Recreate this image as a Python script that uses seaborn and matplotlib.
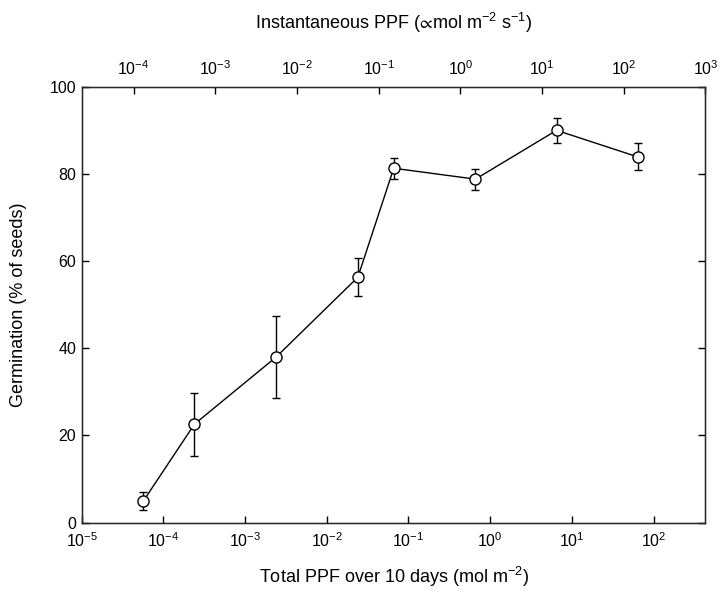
# Germination vs. light dose (total PPF over 10 days / instantaneous PPF)

import numpy as np
import pandas as pd
import matplotlib
matplotlib.use("Agg")
import matplotlib.pyplot as plt
import seaborn as sns

# Data
total_ppf = [5.7e-5, 2.4e-4, 2.4e-3, 2.4e-2, 6.6e-2, 0.66, 6.5, 64.0]   # mol m-2
germination = [5.0, 22.6, 38.0, 56.3, 81.3, 78.8, 90.0, 83.9]          # % of seeds
germ_err = [2.1, 7.2, 9.3, 4.3, 2.4, 2.4, 2.8, 3.1]

# total (mol m-2 over 10 days) = instantaneous (umol m-2 s-1) * factor
ppf_factor = 0.432

bottom_ticks = [1e-5, 1e-4, 1e-3, 1e-2, 1e-1, 1e0, 1e1, 1e2]
top_ticks = [1e-4, 1e-3, 1e-2, 1e-1, 1e0, 1e1, 1e2, 1e3]
y_ticks = [0, 20, 40, 60, 80, 100]


def make_plot():
    sns.set_style("ticks")
    plt.rcParams['font.family'] = ['Liberation Sans', 'DejaVu Sans']
    plt.rcParams['mathtext.fontset'] = 'custom'
    plt.rcParams['mathtext.rm'] = 'Liberation Sans'
    plt.rcParams['mathtext.it'] = 'Liberation Sans'
    plt.rcParams['mathtext.fallback'] = 'stixsans'
    for key in ['text.color', 'axes.labelcolor', 'xtick.color', 'ytick.color']:
        plt.rcParams[key] = 'black'

    df = pd.DataFrame({'total': total_ppf, 'germ': germination, 'err': germ_err})

    fig = plt.figure(figsize=(7.21, 5.92), dpi=100)
    ax = fig.add_axes([0.1133, 0.1171, 0.8652, 0.7364])

    ax.errorbar(df['total'], df['germ'], yerr=df['err'], fmt='none',
                ecolor='black', elinewidth=1.0, capsize=3, capthick=1.0, zorder=2)
    sns.lineplot(data=df, x='total', y='germ', ax=ax, color='black', linewidth=1.0,
                 marker='o', markersize=8, markerfacecolor='white',
                 markeredgecolor='black', markeredgewidth=1.0, zorder=3)

    xmin, xmax = 1e-5, 1e3 * ppf_factor
    ax.set_xscale('log')
    ax.set_xlim(xmin, xmax)
    ax.set_ylim(0, 100)
    ax.set_xticks(bottom_ticks)
    ax.set_yticks(y_ticks)
    ax.minorticks_off()

    ax.tick_params(axis='both', which='major', direction='in', length=5, width=1,
                   labelsize=11.5, color='black', right=True, pad=6)
    ax.tick_params(axis='y', pad=4)
    for sp in ax.spines.values():
        sp.set_linewidth(1.0)
        sp.set_color('black')

    ax.set_xlabel('Total PPF over 10 days (mol m$^{-2}$)', fontsize=13, labelpad=11)
    ax.set_ylabel('Germination (% of seeds)', fontsize=13, labelpad=16)

    # top axis: instantaneous PPF
    top = ax.twiny()
    top.set_xscale('log')
    top.set_xlim(xmin / ppf_factor, xmax / ppf_factor)
    top.set_xticks(top_ticks)
    top.minorticks_off()
    top.tick_params(axis='x', which='major', direction='in', length=5, width=1,
                    labelsize=11.5, color='black', pad=6)
    top.set_xlabel('Instantaneous PPF ($\\!{\\propto}\\!$mol m$^{-2}$ s$^{-1}$)',
                   fontsize=13, labelpad=22)

    fig.savefig('out.png', dpi=100)


if __name__ == "__main__":
    make_plot()
